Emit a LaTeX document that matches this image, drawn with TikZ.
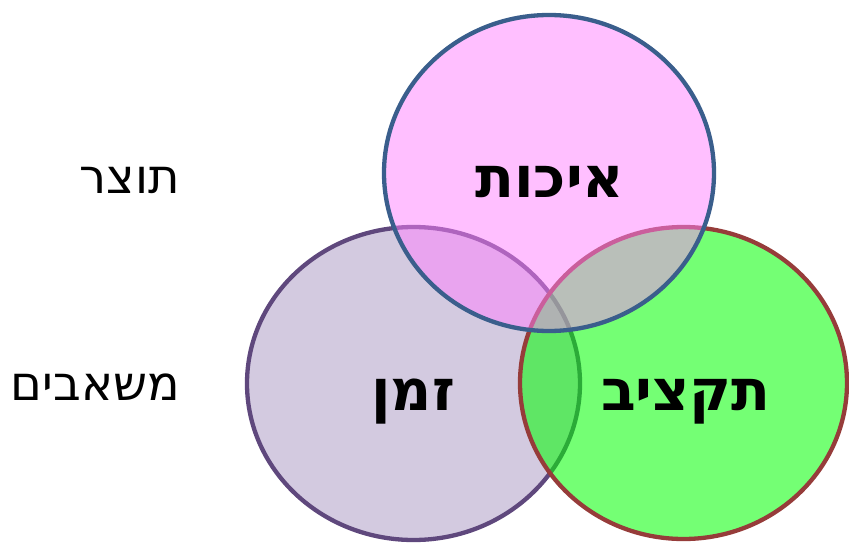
\documentclass[tikz,border=0pt]{standalone}
\usepackage{fontspec}
\TeXXeTstate=1
\newfontfamily\hebfont[Script=Hebrew]{DejaVu Sans}
\definecolor{topfill}{RGB}{255,128,255}
\definecolor{topline}{RGB}{58,94,140}
\definecolor{leftfill}{RGB}{211,202,224}
\definecolor{leftline}{RGB}{95,72,125}
\definecolor{rightfill}{RGB}{0,255,0}
\definecolor{rightline}{RGB}{150,60,58}
\tikzset{
  setcircle/.style={line width=4.3pt},
  biglabel/.style={font=\hebfont\bfseries\fontsize{57}{64}\selectfont, anchor=base, inner sep=0pt},
  sidelabel/.style={font=\hebfont\fontsize{48}{56}\selectfont, anchor=base east, inner sep=0pt}
}
\begin{document}
\begin{tikzpicture}[x=1pt,y=-1pt]
\useasboundingbox (0,0) rectangle (849,543);
\draw[setcircle, draw=leftline, fill=leftfill] (413.5,383.5) ellipse [x radius=166.5, y radius=156.5];
\draw[setcircle, draw=rightline, fill=rightfill, fill opacity=0.545] (683.5,383) ellipse [x radius=163.5, y radius=156];
\draw[setcircle, draw=topline, fill=topfill, fill opacity=0.5] (549,173) ellipse [x radius=165, y radius=158];
\node[biglabel] (quality) at (550,197) {\beginR איכות\endR};
\node[biglabel] (time) at (413,410) {\beginR זמן\endR};
\node[biglabel] (budget) at (686,410) {\beginR תקציב\endR};
\node[sidelabel] (product) at (180,193) {\beginR תוצר\endR};
\node[sidelabel] (resources) at (180,400) {\beginR משאבים\endR};
\end{tikzpicture}
\end{document}
